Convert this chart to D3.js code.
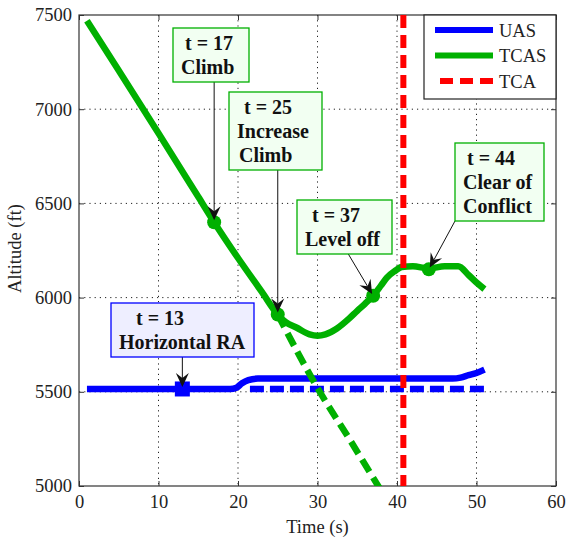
<!DOCTYPE html>
<html>
<head>
  <script src="https://d3js.org/d3.v7.min.js"></script>
  <style>
    body { margin: 0; background: #fff; }
    svg text { font-family: "Liberation Serif", "Times New Roman", serif; fill: #222; }
    .axis text { font-size: 18.5px; font-family: "Liberation Serif", serif; }
    .axis line { stroke: #333; }
    .axis path { display: none; }
    .grid line { stroke: #222; stroke-width: 1; stroke-dasharray: 1.2,4; }
    .note text { font-size: 20px; font-weight: bold; fill: #111; white-space: pre; }
    .legend text { font-size: 18.5px; }
  </style>
</head>
<body>
<div id="chart"></div>
<script>
  // time (s) / altitude (ft)
  var tcasT   = [1, 5, 10, 15, 17, 20, 23, 25, 26, 27.4, 29, 30, 31, 32.4, 34, 35, 36, 37, 38, 38.7, 39.7, 40.6, 42, 44, 46, 47.7, 49, 50, 51];
  var tcasAlt = [7470, 7205, 6872, 6535, 6400, 6210, 6030, 5910, 5870, 5840, 5805, 5798, 5805, 5835, 5890, 5930, 5968, 6010, 6065, 6105, 6140, 6162, 6166, 6155, 6166, 6166, 6120, 6080, 6045];
  var tcasDashT   = [25, 30, 34, 38];
  var tcasDashAlt = [5910, 5520, 5250, 4975];
  var uasT   = [1, 19, 19.8, 20.5, 21.3, 22.5, 47, 48, 49, 50, 51];
  var uasAlt = [5515, 5515, 5522, 5545, 5562, 5570, 5570, 5575, 5588, 5600, 5618];
  var uasDashT   = [21.5, 51];
  var uasDashAlt = [5515, 5515];
  var tcaT = 40.8;
  var xTicks = [0, 10, 20, 30, 40, 50, 60];
  var yTicks = [5000, 5500, 6000, 6500, 7000, 7500];
  var legendNames = ["UAS", "TCAS", "TCA"];

  var markerT = [17, 25, 37, 44];
  var markerAlt = [6400, 5910, 6010, 6150];
  var raT = 13, raAlt = 5515;

  var w = 567, h = 540;
  var padL = 79, padR = 556, padT = 15, padB = 486;
  var serif = "'Liberation Serif', 'Times New Roman', serif";

  var green = "#00b000", blue = "#0000ff", red = "#ff0000";

  var svg = d3.select("#chart").append("svg").attr("width", w).attr("height", h)
    .attr("font-family", serif);

  var x = d3.scaleLinear().domain([0, 60]).range([padL, padR]);
  var y = d3.scaleLinear().domain([5000, 7500]).range([padB, padT]);

  svg.append("defs").append("clipPath").attr("id", "clip")
    .append("rect").attr("x", padL).attr("y", padT).attr("width", padR - padL).attr("height", padB - padT);

  // grid
  var grid = svg.append("g").attr("class", "grid");
  grid.selectAll(".gx").data(xTicks.slice(1, -1)).enter().append("line")
    .attr("x1", d => x(d)).attr("x2", d => x(d)).attr("y1", padT).attr("y2", padB);
  grid.selectAll(".gy").data(yTicks.slice(1, -1)).enter().append("line")
    .attr("x1", padL).attr("x2", padR).attr("y1", d => y(d)).attr("y2", d => y(d));

  // axes (ticks pointing inward)
  var fmt = d3.format("d");
  svg.append("g").attr("class", "axis").attr("transform", `translate(0,${padB})`)
    .call(d3.axisBottom(x).tickValues(xTicks).tickFormat(fmt).tickSizeInner(-5).tickSizeOuter(0).tickPadding(9))
    .attr("font-family", serif);
  svg.append("g").attr("class", "axis").attr("transform", `translate(0,${padT})`)
    .call(d3.axisTop(x).tickValues(xTicks).tickSizeInner(-5).tickSizeOuter(0).tickFormat(""));
  svg.append("g").attr("class", "axis").attr("transform", `translate(${padL},0)`)
    .call(d3.axisLeft(y).tickValues(yTicks).tickFormat(fmt).tickSizeInner(-5).tickSizeOuter(0).tickPadding(7))
    .attr("font-family", serif);
  svg.append("g").attr("class", "axis").attr("transform", `translate(${padR},0)`)
    .call(d3.axisRight(y).tickValues(yTicks).tickSizeInner(-5).tickSizeOuter(0).tickFormat(""));

  svg.append("rect").attr("x", padL).attr("y", padT).attr("width", padR - padL).attr("height", padB - padT)
    .attr("fill", "none").attr("stroke", "#333").attr("stroke-width", 1.2);

  svg.append("text").attr("x", (padL + padR) / 2).attr("y", 533).attr("text-anchor", "middle")
    .style("font-size", "18.5px").text("Time (s)");
  svg.append("text").attr("transform", `translate(21,${(padT + padB) / 2 - 2}) rotate(-90)`)
    .attr("text-anchor", "middle").style("font-size", "18.5px").text("Altitude (ft)");

  var plot = svg.append("g").attr("clip-path", "url(#clip)");

  function series(ts, alts, color, dash) {
    var line = d3.line().x(d => x(d[0])).y(d => y(d[1])).curve(d3.curveMonotoneX);
    plot.append("path").datum(d3.zip(ts, alts)).attr("d", line)
      .attr("fill", "none").attr("stroke", color).attr("stroke-width", 6.5)
      .attr("stroke-linejoin", "round").attr("stroke-dasharray", dash || null);
  }

  series(uasDashT, uasDashAlt, blue, "14,6");
  series(uasT, uasAlt, blue);
  series(tcasDashT, tcasDashAlt, green, "14,7");
  series(tcasT, tcasAlt, green);

  plot.selectAll(".mk").data(d3.zip(markerT, markerAlt)).enter().append("circle")
    .attr("cx", d => x(d[0])).attr("cy", d => y(d[1])).attr("r", 7).attr("fill", green);
  plot.append("rect").attr("x", x(raT) - 7.5).attr("y", y(raAlt) - 7.5).attr("width", 15).attr("height", 15).attr("fill", blue);

  plot.append("line").attr("x1", x(tcaT)).attr("x2", x(tcaT)).attr("y1", padT).attr("y2", padB)
    .attr("stroke", red).attr("stroke-width", 6).attr("stroke-dasharray", "13,7");

  // annotations: box [left, top, width, height] in px, arrow from box bottom to marker
  var notes = [
    { lines: ["t = 17", "Climb"], indent: [4, 0], t: 17, alt: 6400, box: [173, 28, 76, 54], from: 0.5, c: green, fill: "#f2fff2" },
    { lines: ["t = 25", "Increase", "Climb"], indent: [7, 0, 2], t: 25, alt: 5910, box: [229, 92, 93, 78], from: 0.5, c: green, fill: "#f2fff2" },
    { lines: ["t = 37", "Level off"], indent: [7, 0], t: 37, alt: 6010, box: [297, 200, 95, 54], from: 0.54, c: green, fill: "#f2fff2" },
    { lines: ["t = 44", "Clear of", "Conflict"], indent: [4, 0, 0], t: 44, alt: 6150, box: [455, 143, 89, 78], from: 0.0, c: green, fill: "#f2fff2" },
    { lines: ["t = 13", "Horizontal RA"], indent: [17, 0], t: 13, alt: 5515, box: [111, 303, 143, 54], from: 0.5, c: blue, fill: "#eeeeff" }
  ];

  var ng = svg.selectAll(".note").data(notes).enter().append("g").attr("class", "note");

  ng.each(function(d) {
    var g = d3.select(this);
    var b = d.box;
    var x0 = b[0] + d.from * b[2], y0 = b[1] + b[3];
    var x1 = x(d.t), y1 = y(d.alt);
    if (d.from === 0.5) x0 = x1;
    var ang = Math.atan2(y1 - y0, x1 - x0);
    var back = 2;
    var tx = x1 - back * Math.cos(ang), ty = y1 - back * Math.sin(ang);
    var L = 14, W = 6.5, N = 9;
    var ca = Math.cos(ang), sa = Math.sin(ang);
    function pt(a, p) { return [tx - a * ca - p * sa, ty - a * sa + p * ca]; }
    g.append("line").attr("x1", x0).attr("y1", y0).attr("x2", pt(N, 0)[0]).attr("y2", pt(N, 0)[1])
      .attr("stroke", "#111").attr("stroke-width", 1);
    g.append("path").attr("d", "M" + [pt(0, 0), pt(L, W), pt(N, 0), pt(L, -W)].join("L") + "Z").attr("fill", "#111");

    g.append("rect").attr("x", b[0]).attr("y", b[1]).attr("width", b[2]).attr("height", b[3])
      .attr("fill", d.fill).attr("stroke", d.c).attr("stroke-width", 1.3);
    d.lines.forEach(function(s, i) {
      g.append("text").attr("x", b[0] + 8 + d.indent[i]).attr("y", b[1] + 22 + i * 24).text(s);
    });
  });

  // legend
  var lg = svg.append("g").attr("class", "legend");
  lg.append("rect").attr("x", 424).attr("y", padT).attr("width", padR - 424).attr("height", 84)
    .attr("fill", "#fff").attr("stroke", "#222").attr("stroke-width", 1.2);
  var legendColors = [blue, green, red];
  var legendDash = [null, null, "13,7"];
  legendNames.forEach(function(name, i) {
    var ly = 30 + i * 25.5;
    lg.append("line").attr("x1", i === 2 ? 440 : 435).attr("x2", 493).attr("y1", ly).attr("y2", ly)
      .attr("stroke", legendColors[i]).attr("stroke-width", 6).attr("stroke-dasharray", legendDash[i]);
    lg.append("text").attr("x", 499).attr("y", ly + 6.5).text(name);
  });
</script>
</body>
</html>
